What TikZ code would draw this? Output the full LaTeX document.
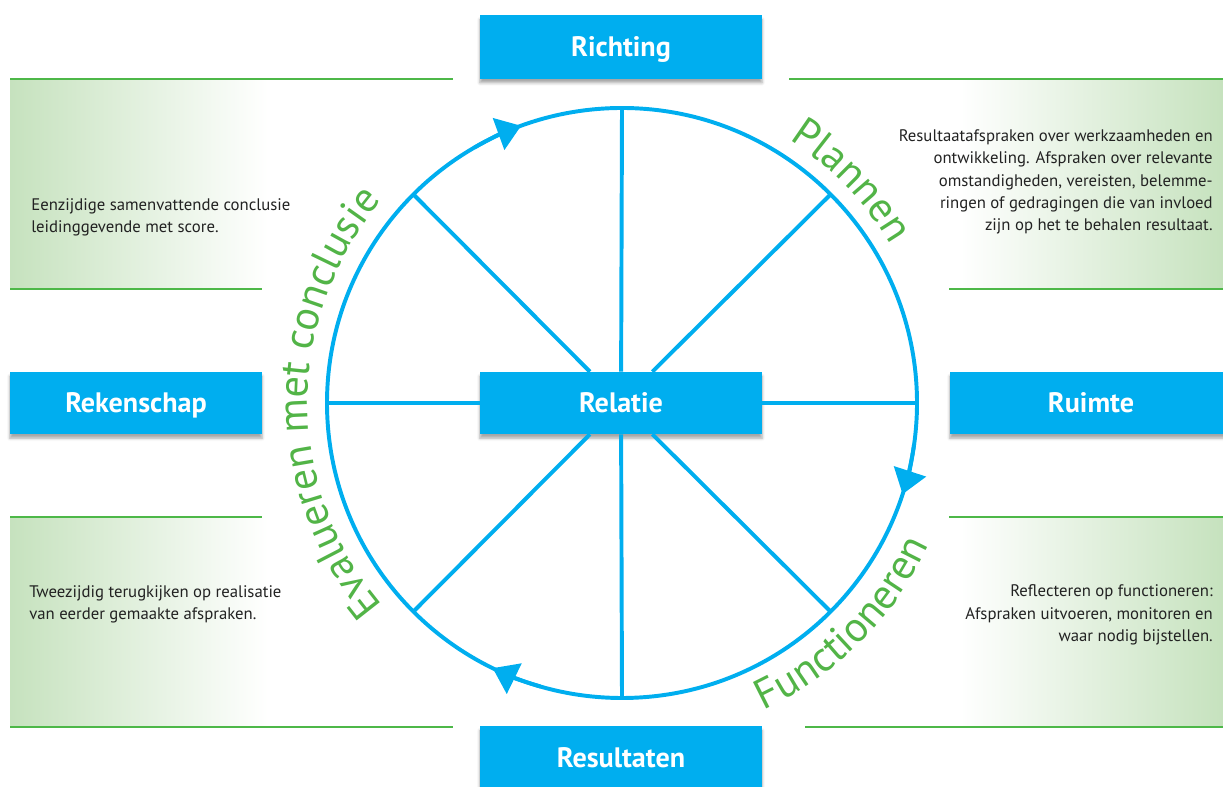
\documentclass[tikz,border=0pt]{standalone}
\usepackage{fontspec}
\setmainfont{PT Sans}
\usetikzlibrary{arrows.meta,decorations.text,shadows.blur}
\definecolor{wheelblue}{HTML}{00AEEF}
\definecolor{linegreen}{HTML}{4DB848}
\definecolor{panelgreen}{HTML}{C6E2BE}
\definecolor{arcgreen}{HTML}{52B447}
\definecolor{textgrey}{HTML}{222222}
\newcommand{\arcfont}{\fontsize{30}{36}\selectfont}

\begin{document}
\begin{tikzpicture}[x=0.025cm, y=0.025cm,
    blok/.style={fill=wheelblue, text=white, inner sep=0pt,
        font=\bfseries\fontsize{20}{24}\selectfont,
        text height=14pt, text depth=0pt,
        minimum width=7.05cm, minimum height=1.58cm,
        blur shadow={shadow xshift=0pt, shadow yshift=-3pt, shadow opacity=35}},
    uitleg/.style={text=textgrey, inner sep=0pt, font=\fontsize{11.9}{15.8}\selectfont},
    rand/.style={draw=linegreen, line width=1.9pt},
    wiel/.style={draw=wheelblue, line width=2.8pt},
    pijl/.style={wiel, -{Triangle[length=0.6cm, width=0.83cm]}},
    boogtekst/.style={decorate, decoration={text along path, text align=center,
        text color=arcgreen, text={|\arcfont|#1}}}]
    \useasboundingbox (0,0) rectangle (1223,787);
    \clip (0,0) rectangle (1223,787);

    % groene vlakken
    \shade[left color=panelgreen, right color=white] (10,498) rectangle (268,708);
    \shade[left color=white, right color=panelgreen] (960,498) rectangle (1223,708);
    \shade[left color=panelgreen, right color=white] (10,60) rectangle (268,270);
    \shade[left color=white, right color=panelgreen] (960,60) rectangle (1223,270);
    \draw[rand] (10,708)--(453,708);
    \draw[rand] (10,498)--(262,498);
    \draw[rand] (789,708)--(1223,708);
    \draw[rand] (949,498)--(1223,498);
    \draw[rand] (10,270)--(262,270);
    \draw[rand] (10,60)--(453,60);
    \draw[rand] (949,270)--(1223,270);
    \draw[rand] (805,60)--(1223,60);

    \node[uitleg, anchor=west, align=left] (tekstlb) at (31,570)
        {Eenzijdige samenvattende conclusie\\leidinggevende met score.};
    \node[uitleg, anchor=east, align=right] (tekstrb) at (1213,605)
        {Resultaatafspraken over werkzaamheden en\\ontwikkeling. Afspraken over relevante\\omstandigheden, vereisten, belemme-\\ringen of gedragingen die van invloed\\zijn op het te behalen resultaat.};
    \node[uitleg, anchor=east, align=right] (tekstro) at (1213,172)
        {Reflecteren op functioneren:\\Afspraken uitvoeren, monitoren en\\waar nodig bijstellen.};
    \node[uitleg, anchor=west, align=left] (tekstlo) at (29,183)
        {Tweezijdig terugkijken op realisatie\\van eerder gemaakte afspraken.};

    % wiel
    \coordinate (hub) at (622,384);
    \draw[wiel] (hub) circle[radius=295];
    \foreach \a in {0,45,...,315}
        \path (hub) ++(\a:295) coordinate (rim\a);
    \draw[pijl] (hub) ++(120:295) arc[start angle=120, end angle=110, radius=295];
    \draw[pijl] (hub) ++(-8:295) arc[start angle=-8, end angle=-18, radius=295];
    \draw[pijl] (hub) ++(254:295) arc[start angle=254, end angle=244, radius=295];

    \node[blok] (richting) at (621,740) {Richting};
    \node[blok, minimum height=1.55cm] (relatie) at (621,384) {Relatie};
    \node[blok] (resultaten) at (621,29) {Resultaten};
    \node[blok, minimum width=6.3cm, minimum height=1.55cm] (rekenschap) at (136,384) {Rekenschap};
    \node[blok, minimum height=1.55cm] (ruimte) at (1091,384) {Ruimte};
    \foreach \a in {0,45,...,315}
        \draw[wiel] (relatie) -- (rim\a);

    \path[boogtekst=Plannen] (hub) ++(70:312) arc[start angle=70, end angle=18, radius=312];
    \path[boogtekst=Evalueren met conclusie] (hub) ++(240:314) arc[start angle=240, end angle=120, radius=314];
    \path[boogtekst=Functioneren] (hub) ++(-90:338) arc[start angle=-90, end angle=0, radius=338];
\end{tikzpicture}
\end{document}
